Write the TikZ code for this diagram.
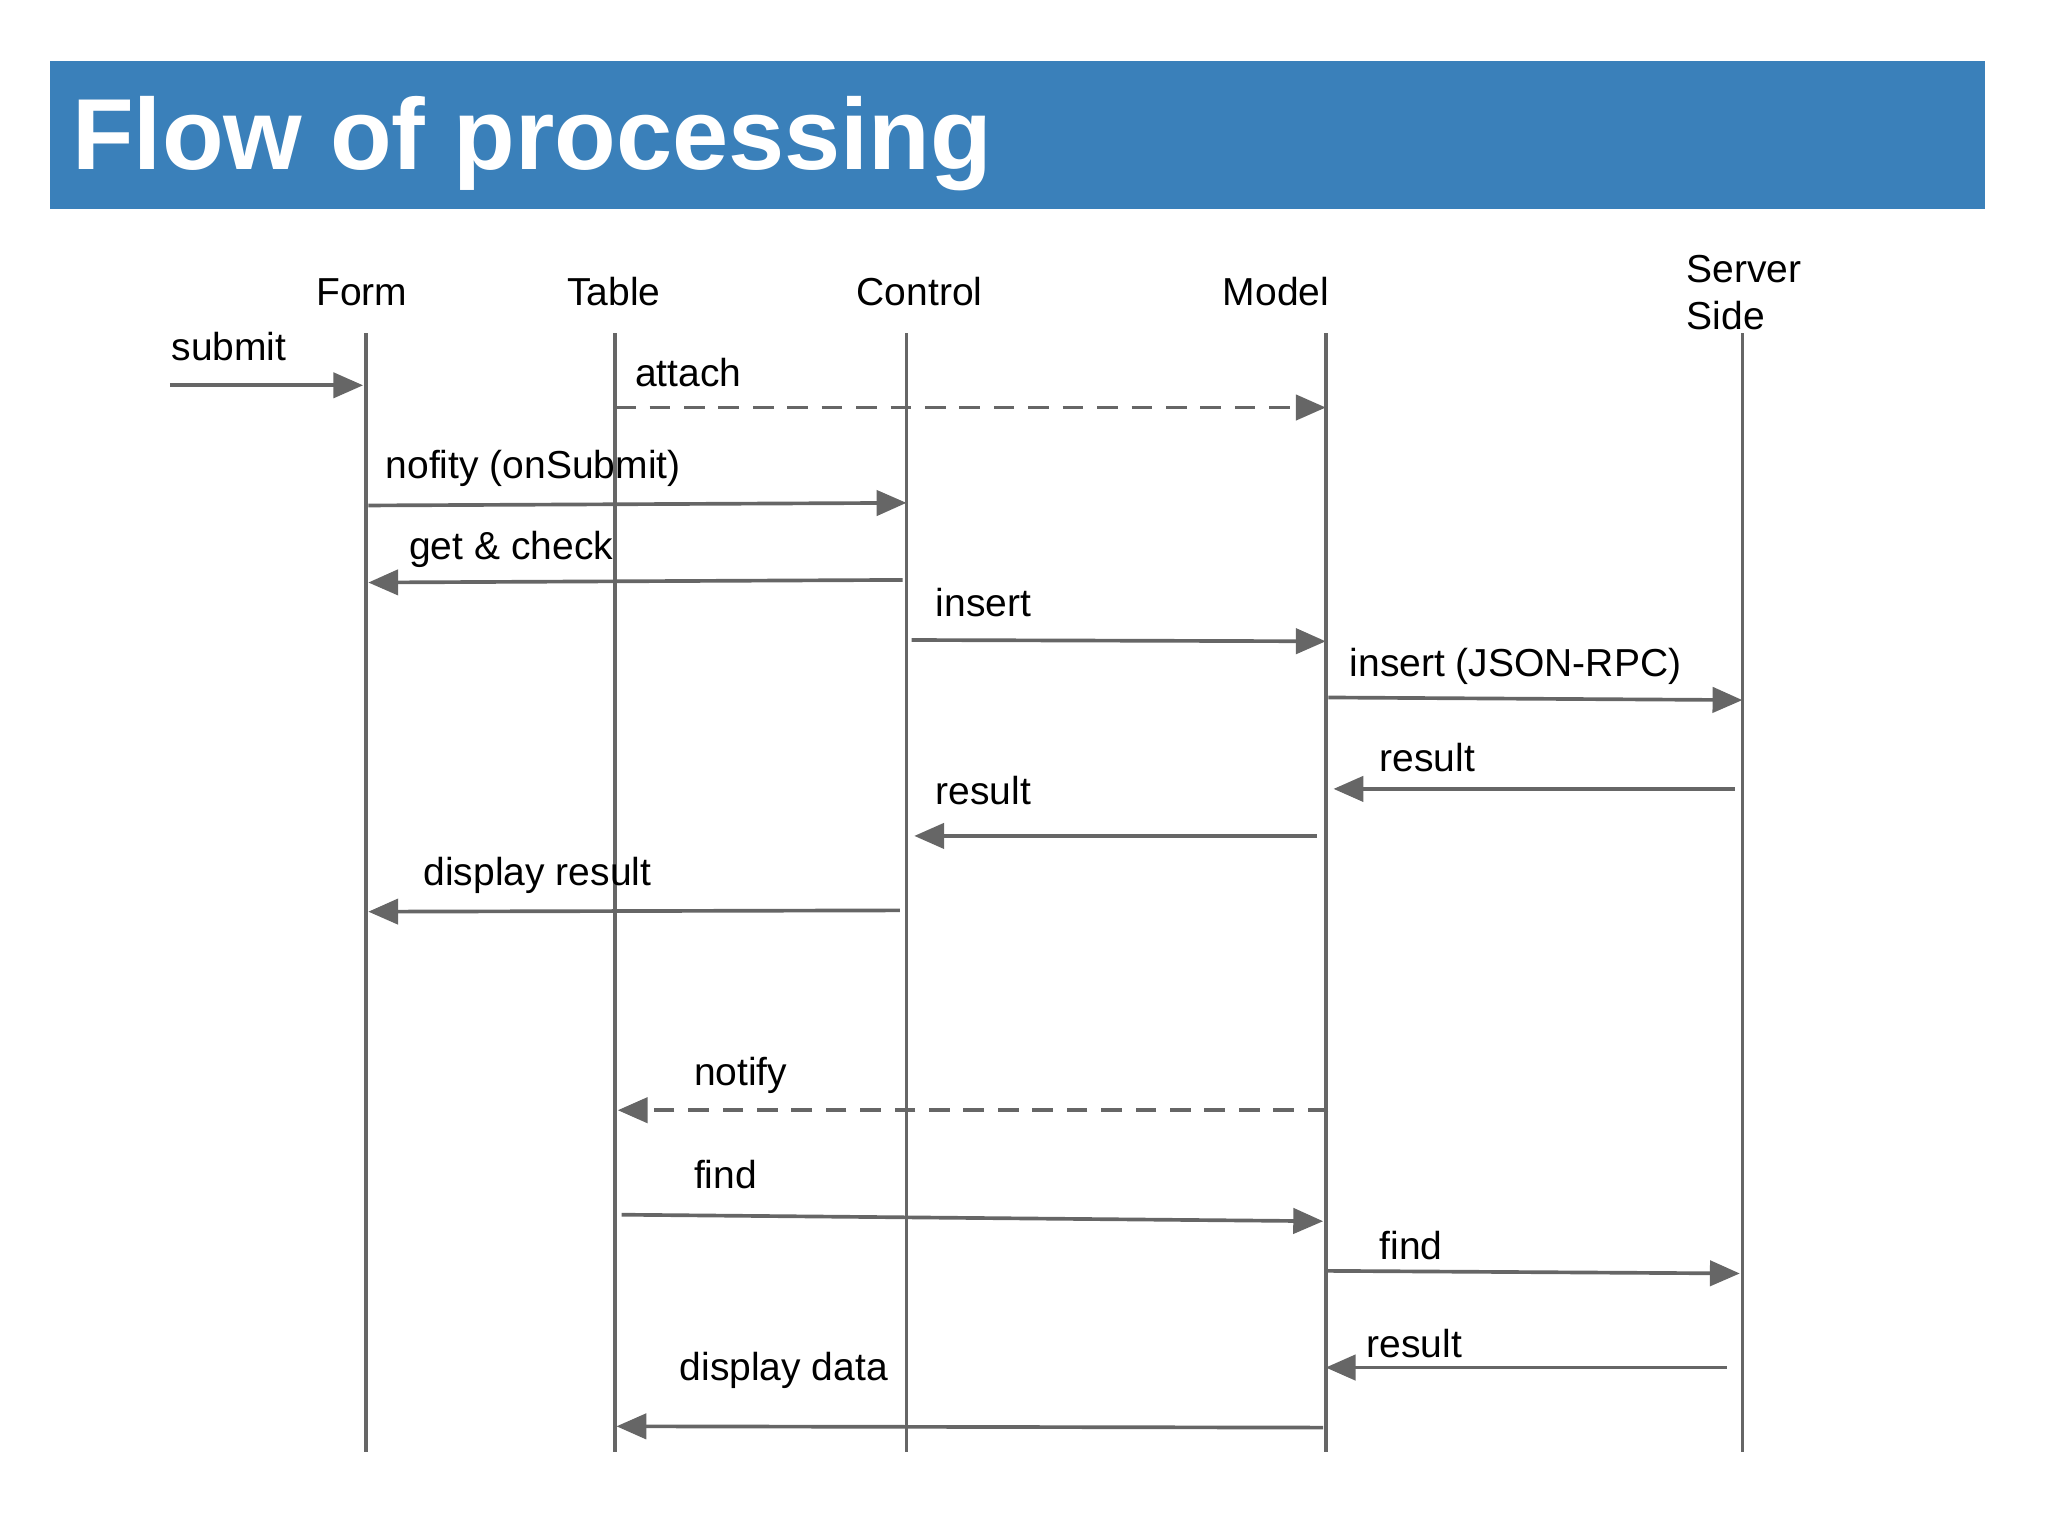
\documentclass[tikz,border=0pt]{standalone}
\usepackage{fontspec}
\setmainfont{Liberation Sans}
\usetikzlibrary{arrows.meta}
\definecolor{barblue}{HTML}{3A80BA}
\definecolor{linegray}{HTML}{666666}
\tikzset{
  life/.style={linegray,line width=1.6pt},
  msg/.style={linegray,line width=1.6pt,-{Triangle[length=13pt,width=11pt]}},
  ret/.style={msg,dashed,dash pattern=on 9pt off 6pt},
  lbl/.style={anchor=base west,inner sep=0pt,font=\fontsize{17}{20}\selectfont},
  head/.style={anchor=base,inner sep=0pt,font=\fontsize{17}{20}\selectfont}
}
\begin{document}
\begin{tikzpicture}[x=0.02cm,y=-0.02cm]
  \useasboundingbox (0,0) rectangle (1568,1176);
  % title bar
  \fill[barblue] (38,47) rectangle (1520,160);
  \node[anchor=base west,inner sep=0pt,text=white,font=\bfseries\fontsize{44}{50}\selectfont] (title) at (55,130) {Flow of processing};
  % headers
  \node[head] (hForm) at (277,234) {Form};
  \node[head] (hTable) at (470,234) {Table};
  \node[head] (hControl) at (704,234) {Control};
  \node[head] (hModel) at (977,234) {Model};
  \node[lbl] (hServer) at (1291,216) {Server};
  \node[lbl] (hSide) at (1291,252) {Side};
  % lifelines
  \foreach \n/\x in {F/280,T/471,C/694,M/1015,S/1334}{
    \coordinate (\n top) at (\x,255);
    \coordinate (\n bot) at (\x,1112);
    \draw[life] (\n top) -- (\n bot);
  }
  % messages
  \coordinate (s0) at (130,295); \coordinate (s1) at (278,295);
  \draw[msg] (s0) -- (s1);
  \node[lbl] (lsubmit) at (131,276) {submit};
  \coordinate (a0) at (471,312); \coordinate (a1) at (1015,312);
  \draw[ret] (a0) -- (a1);
  \node[lbl] (lattach) at (486,296) {attach};
  \coordinate (n0) at (282,387); \coordinate (n1) at (694,385);
  \draw[msg] (n0) -- (n1);
  \node[lbl] (lnofity) at (295,366) {nofity (onSubmit)};
  \coordinate (g0) at (691,444); \coordinate (g1) at (282,446);
  \draw[msg] (g0) -- (g1);
  \node[lbl] (lget) at (313,428) {get \& check};
  \coordinate (i0) at (698,490); \coordinate (i1) at (1015,491);
  \draw[msg] (i0) -- (i1);
  \node[lbl] (linsert) at (716,472) {insert};
  \coordinate (j0) at (1017,534); \coordinate (j1) at (1334,536);
  \draw[msg] (j0) -- (j1);
  \node[lbl] (ljson) at (1033,518) {insert (JSON-RPC)};
  \coordinate (r0) at (1328,604); \coordinate (r1) at (1021,604);
  \draw[msg] (r0) -- (r1);
  \node[lbl] (lresA) at (1056,591) {result};
  \coordinate (q0) at (1008,640); \coordinate (q1) at (700,640);
  \draw[msg] (q0) -- (q1);
  \node[lbl] (lresB) at (716,616) {result};
  \coordinate (d0) at (689,697); \coordinate (d1) at (282,698);
  \draw[msg] (d0) -- (d1);
  \node[lbl] (ldisp) at (324,678) {display result};
  \coordinate (t0) at (1017,850); \coordinate (t1) at (473,850);
  \draw[ret] (t0) -- (t1);
  \node[lbl] (lnotify) at (531,831) {notify};
  \coordinate (f0) at (476,930); \coordinate (f1) at (1013,935);
  \draw[msg] (f0) -- (f1);
  \node[lbl] (lfindA) at (531,910) {find};
  \coordinate (k0) at (1016,973); \coordinate (k1) at (1332,975);
  \draw[msg] (k0) -- (k1);
  \node[lbl] (lfindB) at (1056,964) {find};
  \coordinate (p0) at (1322,1047); \coordinate (p1) at (1015,1047);
  \draw[msg] (p0) -- (p1);
  \node[lbl] (lresC) at (1046,1039) {result};
  \coordinate (e0) at (1013,1093); \coordinate (e1) at (472,1092);
  \draw[msg] (e0) -- (e1);
  \node[lbl] (ldata) at (520,1057) {display data};
\end{tikzpicture}
\end{document}
